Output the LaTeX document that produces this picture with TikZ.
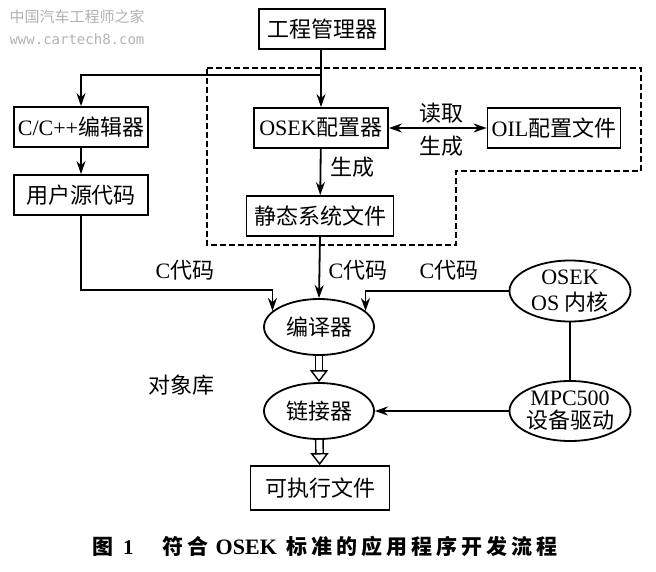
\documentclass[tikz,border=0pt]{standalone}
\usepackage{fontspec}
\setmainfont{Liberation Serif}
\setmonofont{DejaVu Sans Mono}
\newfontfamily\cn{Noto Sans CJK SC}
\newfontfamily\cnwide[LetterSpace=19]{Noto Sans CJK SC}
\usetikzlibrary{arrows.meta, shapes.geometric}
\tikzset{x=1pt, y=-1pt, >={Stealth[length=13pt, width=9pt]},
	textbox/.style={draw, rectangle, minimum height=40pt, inner sep=0pt, font=\fontsize{22}{24}\selectfont},
	oval/.style={draw, ellipse, inner sep=-8pt, align=center, font=\fontsize{22}{26}\selectfont},
	label text/.style={inner sep=0pt, font=\fontsize{22}{24}\selectfont},
	hollow/.style={double, double distance=6pt, line width=1.4pt, -{Triangle[open, fill=white, length=12pt, width=18pt]}}}

\begin{document}
\begin{tikzpicture}[line width=1.8pt]
	\useasboundingbox (0,0) rectangle (656,571);
	\node[textbox, minimum width=126pt] (Manager) at (322,29) {\cn 工程管理器};
	\node[textbox, minimum width=134pt] (Editor) at (81,127) {C/C++{\cn 编辑器}};
	\node[textbox, minimum width=134pt] (User Code) at (81,195) {\cn 用户源代码};
	\node[textbox, minimum width=134pt] (Config) at (321,128) {OSEK{\cn 配置器}};
	\node[textbox, minimum width=147pt] (Static) at (320,216) {\cn 静态系统文件};
	\node[textbox, minimum width=133pt] (OIL) at (554,128) {OIL{\cn 配置文件}};
	\node[oval, minimum width=110pt, minimum height=56pt] (Compiler) at (319,327) {\cn 编译器};
	\node[oval, minimum width=110pt, minimum height=56pt] (Linker) at (319,411) {\cn 链接器};
	\node[textbox, minimum width=139pt, minimum height=44pt] (Exe) at (320,488) {\cn 可执行文件};
	\node[oval, minimum width=121pt, minimum height=61pt] (Kernel) at (570,291) {OSEK\\OS {\cn 内核}};
	\node[oval, minimum width=121pt, minimum height=60pt] (Driver) at (570,411) {MPC500\\[-3pt]{\cn 设备驱动}};
	\node[label text] (Read) at (441,113) {\cn 读取};
	\node[label text] (Gen) at (441,146) {\cn 生成};
	\node[label text] (Static Gen) at (352,167) {\cn 生成};
	\node[label text] (C Left) at (185,270) {C{\cn 代码}};
	\node[label text] (C Mid) at (358,270) {C{\cn 代码}};
	\node[label text] (C Right) at (449,270) {C{\cn 代码}};
	\node[label text] (Lib) at (181,385) {\cn 对象库};
	\node[inner sep=0pt, font=\fontsize{21}{24}\selectfont\bfseries] (Caption) at (325,546) {{\cn 图}\hspace{10pt}1\hspace{29pt}{\cnwide 符合}\hspace{7pt}{\fontsize{22}{24}\selectfont OSEK}\hspace{10pt}{\cnwide 标准的应用程序开发流程}};
	\node[inner sep=0pt, text=gray!60, font=\fontsize{15}{18}\selectfont] (Mark) at (77,17) {\cn 中国汽车工程师之家};
	\node[inner sep=0pt, text=gray!60, font=\fontsize{14}{16}\ttfamily] (Site) at (77,39) {www.cartech8.com};
	% dashed frame round the configuration part
	\draw[line width=1.5pt, dash pattern=on 6pt off 3pt] (207,68) -- (641,68) -- (641,171) -- (456,171) -- (456,245) -- (207,245) -- cycle;
	\coordinate (Branch) at (Config.north |- 0,75);
	\coordinate (Left In) at (Compiler.161 |- 0,290);
	\coordinate (Right In) at (Compiler.19 |- 0,291);
	\draw[->] (Manager.south -| Config.north) -- (Config.north);
	\draw[->] (Branch) -| (Editor.north);
	\draw[->] (Editor) -- (User Code);
	\draw[->] (Config) -- (Static);
	\draw[<->] (Config) -- (OIL);
	\draw[->] (Static.south) -- (Compiler.north);
	\draw[->] (User Code.south) |- (Left In) -- (Compiler.161);
	\draw[->] (Kernel.west) -- (Right In) -- (Compiler.19);
	\draw (Kernel) -- (Driver);
	\draw[->] (Driver.west) -- (Linker.east);
	\draw[hollow] (Compiler) -- (Linker);
	\draw[hollow] (Linker) -- (Exe);
\end{tikzpicture}
\end{document}
